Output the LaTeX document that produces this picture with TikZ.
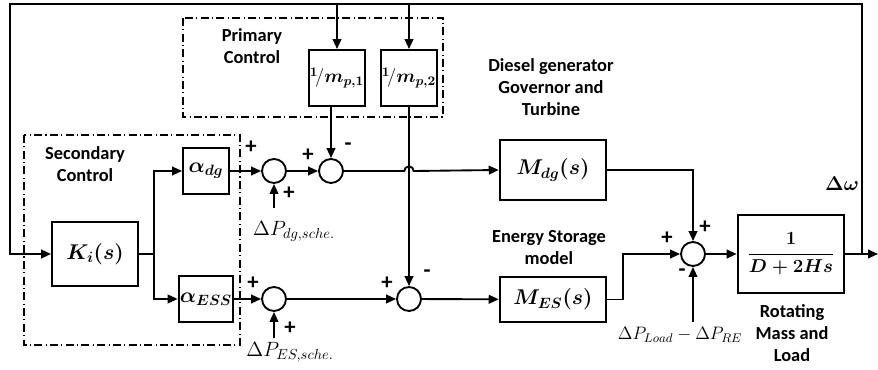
\RequirePackage{fix-cm}
\documentclass[tikz,border=0pt]{standalone}
\usepackage{amsmath,bm}
\usepackage[no-math]{fontspec}
\newfontfamily\lblfont{Carlito}
\usetikzlibrary{arrows.meta,positioning,calc}
\tikzset{
  blk/.style={draw,rectangle,line width=1.4pt,inner sep=1pt,align=center,font=\fontsize{16}{18}\selectfont},
  sumnode/.style={circle,draw,line width=1.4pt,minimum size=18pt,inner sep=0pt},
  arr/.style={-{Triangle[length=7.5pt,width=6.5pt]},line width=1.4pt},
  ln/.style={line width=1.4pt},
  grp/.style={draw,line width=0.8pt,dash pattern=on 6pt off 2.5pt on 0.8pt off 2.5pt},
  lbl/.style={font=\lblfont\bfseries\fontsize{13.8}{16.5}\selectfont,align=center},
  sgn/.style={font=\lblfont\bfseries\fontsize{17}{17}\selectfont,inner sep=0pt},
  mlbl/.style={font=\fontsize{13.5}{15}\selectfont,inner sep=1pt}
}

\begin{document}
\begin{tikzpicture}[x=0.75pt,y=-0.75pt]
  \useasboundingbox (0,0) rectangle (878,370);
  % Control groups
  \draw[grp] (183,18) rectangle (443,117);
  \draw[grp] (24,135) rectangle (240,345);
  \node[lbl] (lblpc) at (252,46) {Primary\\Control};
  \node[lbl] (lblsc) at (85,164) {Secondary\\Control};

  % Blocks
  \node[blk, minimum width=64.5pt, minimum height=48pt] (Ki) at (95,254) {$\bm{K_i(s)}$};
  \node[blk, minimum width=34.5pt, minimum height=34pt] (adg) at (206,171) {$\bm{\alpha_{dg}}$};
  \node[blk, minimum width=34.5pt, minimum height=34pt] (aes) at (206,299) {$\bm{\alpha_{ESS}}$};
  \node[blk, minimum width=40.5pt, minimum height=42pt, font=\fontsize{14}{16}\selectfont] (mp1) at (337,78) {${}^{\bm{1}}\!/\bm{m_{p,1}}$};
  \node[blk, minimum width=40.5pt, minimum height=42pt, font=\fontsize{14}{16}\selectfont] (mp2) at (409,78) {${}^{\bm{1}}\!/\bm{m_{p,2}}$};
  \node[blk, minimum width=80pt, minimum height=45pt] (Mdg) at (553,170) {$\bm{M_{dg}(s)}$};
  \node[blk, minimum width=80pt, minimum height=34pt] (Mes) at (553,299.5) {$\bm{M_{ES}(s)}$};
  \node[blk, minimum width=80pt, minimum height=58.5pt, font=\fontsize{14}{16}\selectfont] (G) at (791,254) {$\bm{\dfrac{1}{D+2Hs}}$};

  % Summing junctions
  \foreach \n/\x/\y in {s1/274/171, s2/331/171, s3/274/299, s4/409/299, s5/693/254}
    \node[sumnode] (\n) at (\x,\y) {};

  % Texts
  \node[lbl] (lbldg) at (551,87) {Diesel generator\\Governor and\\Turbine};
  \node[lbl] (lbles) at (549,248) {Energy Storage\\model};
  \node[lbl] (lblrm) at (792,333) {Rotating\\Mass and\\Load};
  \node[font=\fontsize{15}{15}\selectfont] (dw) at (842,184) {$\bm{\Delta\omega}$};
  \node[mlbl, font=\fontsize{15.5}{17}\selectfont] (dpdg) at (294,231) {$\Delta P_{dg,sche.}$};
  \node[mlbl, font=\fontsize{15.5}{17}\selectfont] (dpes) at (290,352) {$\Delta P_{ES,sche.}$};
  \node[mlbl] (dpld) at (680,335) {$\Delta P_{Load}-\Delta P_{RE}$};

  % Signs
  \node[sgn] (p1a) at (251,147) {+};
  \node[sgn] (p1b) at (289,193) {+};
  \node[sgn] (p2a) at (308,155) {+};
  \node[sgn] (m2b) at (348,147) {-};
  \node[sgn] (p3a) at (253,283) {+};
  \node[sgn] (p3b) at (290,328) {+};
  \node[sgn] (p4a) at (387,283) {+};
  \node[sgn] (m4b) at (427,274) {-};
  \node[sgn] (p5a) at (705,227) {+};
  \node[sgn] (p5b) at (667,238) {+};
  \node[sgn] (m5c) at (682,273) {-};

  % Free ends
  \coordinate (outEnd) at (878,254);
  \coordinate (brOut) at (862,254);
  \coordinate (topL) at (10,4);
  \coordinate (kb) at (154,254);
  \coordinate (hop) at (404.3,171);
  \coordinate (mj) at (623,299.5);
  \coordinate (d1) at (274,208);
  \coordinate (d3) at (274,338);
  \coordinate (d5) at (693,322);

  % Feedback path
  \draw[arr] (G.east) -- (outEnd);
  \draw[arr] (brOut) |- (topL) |- (Ki.west);
  \draw[arr] (mp1.north |- topL) -- (mp1.north);
  \draw[arr] (mp2.north |- topL) -- (mp2.north);

  % Secondary control split
  \draw[ln] (Ki.east) -- (kb);
  \draw[arr] (kb) |- (adg.west);
  \draw[arr] (kb) |- (aes.west);

  % Diesel branch
  \draw[arr] (adg) -- (s1);
  \draw[arr] (d1) -- (s1.south);
  \draw[arr] (s1) -- (s2);
  \draw[arr] (mp1.south -| s2) -- (s2.north);
  \draw[arr] (s2.east) -- (hop) arc[start angle=180,end angle=0,radius=3.5pt] -- (Mdg.west);
  \draw[arr] (Mdg.east) -| (s5.north);

  % Storage branch
  \draw[arr] (aes) -- (s3);
  \draw[arr] (d3) -- (s3.south);
  \draw[arr] (s3) -- (s4);
  \draw[arr] (mp2.south) -- (s4.north);
  \draw[arr] (s4) -- (Mes);
  \draw[arr] (Mes.east) -- (mj) |- (s5.west);

  % Load and swing
  \draw[arr] (d5) -- (s5.south);
  \draw[arr] (s5) -- (G);
\end{tikzpicture}
\end{document}
